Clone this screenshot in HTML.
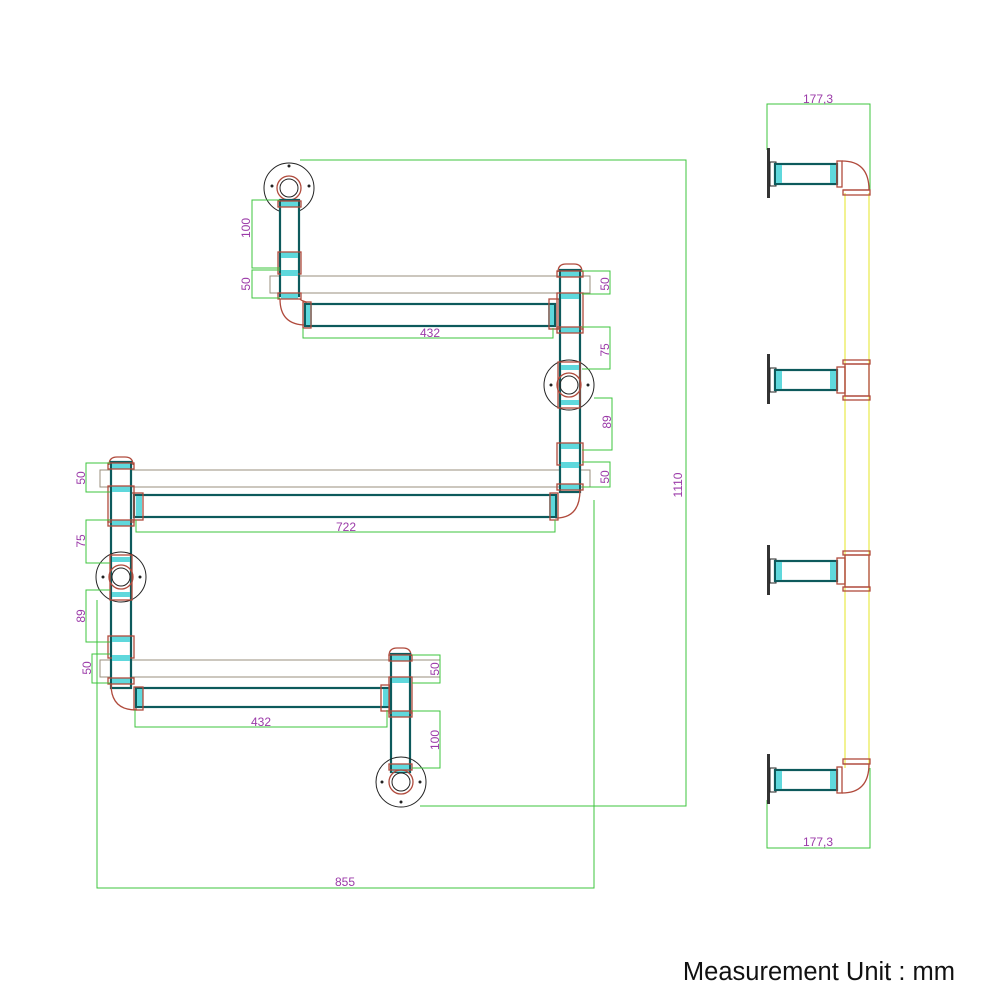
<!DOCTYPE html>
<html><head><meta charset="utf-8"><style>
html,body{margin:0;padding:0;background:#fff}
svg{display:block}
.p{fill:#fff;stroke:#0d5a5c;stroke-width:2.2}
.c{fill:#5fd8dc;stroke:none}
.r{fill:none;stroke:#b04a3c;stroke-width:1.3}
.g{fill:none;stroke:#3cc43c;stroke-width:1}
.s{fill:none;stroke:#9a8f7c;stroke-width:1}
.k{fill:none;stroke:#222;stroke-width:1}
.y{stroke:#e8e84a;stroke-width:1.2}
.t{font-family:"Liberation Sans",sans-serif;font-size:12px;fill:#9b3aa8}
</style></head><body>
<svg width="1000" height="1000" viewBox="0 0 1000 1000" xmlns="http://www.w3.org/2000/svg">
<polyline class="g" points="300,160 686,160 686,806 420,806"/>
<text class="t" transform="translate(682,485) rotate(-90)" text-anchor="middle">1110</text>
<polyline class="g" points="97,600 97,888 594,888 594,500"/>
<text class="t" x="345" y="886" text-anchor="middle">855</text>

<rect class="s" x="270" y="276" width="320" height="17"/>
<rect class="s" x="100" y="470" width="490" height="17"/>
<rect class="s" x="100" y="660" width="340" height="17"/>

<circle class="k" cx="289" cy="188" r="25"/>
<circle class="r" cx="289" cy="188" r="12"/><circle class="k" cx="289" cy="188" r="9"/>
<circle cx="289" cy="166" r="1.5" fill="#222"/><circle cx="272" cy="186" r="1.5" fill="#222"/><circle cx="309" cy="186" r="1.5" fill="#222"/>
<rect class="p" x="280" y="200" width="19" height="96"/>
<rect class="c" x="281" y="201" width="17" height="6"/><rect class="r" x="278" y="201" width="23" height="6"/>
<rect class="c" x="281" y="252" width="17" height="6"/><rect class="r" x="278" y="252" width="23" height="22"/>
<rect class="c" x="281" y="270" width="17" height="6"/>
<rect class="c" x="281" y="293" width="17" height="6"/><rect class="r" x="278" y="293" width="23" height="6"/>
<path class="r" d="M280,299 Q280,325 306,325 L306,302 Q300,300 300,299"/>
<rect class="p" x="305" y="304" width="250" height="22"/>
<rect class="c" x="306" y="305" width="6" height="20"/><rect class="r" x="303" y="302" width="8" height="26"/>
<rect class="c" x="548" y="305" width="6" height="20"/><rect class="r" x="549" y="299" width="10" height="30"/>
<polyline class="g" points="303,328 303,338 553,338 553,328"/>
<text class="t" x="430" y="337" text-anchor="middle">432</text>
<polyline class="g" points="280,200 252,200 252,268 280,268"/><text class="t" transform="translate(250,228) rotate(-90)" text-anchor="middle">100</text>
<polyline class="g" points="280,270 252,270 252,298 280,298"/><text class="t" transform="translate(250,284) rotate(-90)" text-anchor="middle">50</text>

<path class="r" d="M558,272 Q558,264 566,264 L574,264 Q582,264 582,272"/>
<rect class="p" x="560" y="270" width="20" height="222"/>
<rect class="c" x="561" y="271" width="18" height="6"/><rect class="r" x="557" y="271" width="26" height="6"/>
<rect class="c" x="561" y="293" width="18" height="6"/><rect class="r" x="557" y="293" width="26" height="36"/>
<rect class="c" x="561" y="327" width="18" height="6"/><rect class="r" x="557" y="327" width="26" height="6"/>
<circle class="k" cx="569" cy="385" r="25"/>
<rect class="r" x="558" y="362" width="22" height="46"/>
<circle class="r" cx="569" cy="385" r="12"/><circle class="k" cx="569" cy="385" r="9"/>
<circle cx="551" cy="385" r="1.5" fill="#222"/><circle cx="588" cy="385" r="1.5" fill="#222"/>
<rect class="c" x="561" y="365" width="18" height="5"/><rect class="c" x="561" y="400" width="18" height="5"/>
<rect class="c" x="561" y="443" width="18" height="6"/><rect class="r" x="557" y="443" width="26" height="22"/>
<rect class="c" x="561" y="462" width="18" height="6"/>
<rect class="c" x="561" y="484" width="18" height="6"/><rect class="r" x="557" y="484" width="26" height="6"/>
<path class="r" d="M580,490 Q580,518 556,518 L556,494"/>
<polyline class="g" points="582,271 610,271 610,294 582,294"/><text class="t" transform="translate(609,284) rotate(-90)" text-anchor="middle">50</text>
<polyline class="g" points="582,327 610,327 610,369 582,369"/><text class="t" transform="translate(609,350) rotate(-90)" text-anchor="middle">75</text>
<polyline class="g" points="594,398 612,398 612,450 582,450"/><text class="t" transform="translate(611,422) rotate(-90)" text-anchor="middle">89</text>
<polyline class="g" points="582,462 610,462 610,487 582,487"/><text class="t" transform="translate(609,477) rotate(-90)" text-anchor="middle">50</text>

<rect class="p" x="134" y="495" width="422" height="22"/>
<rect class="c" x="136" y="496" width="6" height="20"/><rect class="r" x="131" y="493" width="12" height="27"/>
<rect class="c" x="549" y="496" width="6" height="20"/><rect class="r" x="550" y="493" width="8" height="27"/>
<polyline class="g" points="136,520 136,532 555,532 555,520"/>
<text class="t" x="346" y="531" text-anchor="middle">722</text>

<path class="r" d="M109,465 Q109,457 117,457 L125,457 Q133,457 133,465"/>
<rect class="p" x="111" y="462" width="20" height="226"/>
<rect class="c" x="112" y="463" width="18" height="6"/><rect class="r" x="108" y="463" width="26" height="6"/>
<rect class="c" x="112" y="486" width="18" height="6"/><rect class="r" x="108" y="486" width="26" height="36"/>
<rect class="c" x="112" y="520" width="18" height="6"/><rect class="r" x="108" y="520" width="26" height="6"/>
<circle class="k" cx="121" cy="577" r="25"/>
<rect class="r" x="110" y="555" width="22" height="45"/>
<circle class="r" cx="121" cy="577" r="12"/><circle class="k" cx="121" cy="577" r="9"/>
<circle cx="103" cy="577" r="1.5" fill="#222"/><circle cx="140" cy="577" r="1.5" fill="#222"/>
<rect class="c" x="112" y="557" width="18" height="5"/><rect class="c" x="112" y="592" width="18" height="5"/>
<rect class="c" x="112" y="636" width="18" height="6"/><rect class="r" x="108" y="636" width="26" height="22"/>
<rect class="c" x="112" y="655" width="18" height="6"/>
<rect class="c" x="112" y="678" width="18" height="6"/><rect class="r" x="108" y="678" width="26" height="6"/>
<path class="r" d="M111,684 Q111,710 136,710 L136,688"/>
<polyline class="g" points="110,463 86,463 86,492 110,492"/><text class="t" transform="translate(85,478) rotate(-90)" text-anchor="middle">50</text>
<polyline class="g" points="110,520 86,520 86,563 110,563"/><text class="t" transform="translate(85,541) rotate(-90)" text-anchor="middle">75</text>
<polyline class="g" points="110,590 86,590 86,642 110,642"/><text class="t" transform="translate(85,616) rotate(-90)" text-anchor="middle">89</text>
<polyline class="g" points="110,654 92,654 92,683 110,683"/><text class="t" transform="translate(91,668) rotate(-90)" text-anchor="middle">50</text>

<rect class="p" x="136" y="688" width="254" height="19"/>
<rect class="c" x="137" y="689" width="6" height="17"/><rect class="r" x="134" y="687" width="9" height="23"/>
<rect class="c" x="383" y="689" width="6" height="17"/><rect class="r" x="381" y="685" width="9" height="26"/>
<polyline class="g" points="135,710 135,727 387,727 387,710"/>
<text class="t" x="261" y="726" text-anchor="middle">432</text>

<path class="r" d="M389,656 Q389,648 397,648 L403,648 Q411,648 411,656"/>
<rect class="p" x="391" y="654" width="19" height="118"/>
<rect class="c" x="392" y="655" width="17" height="6"/><rect class="r" x="389" y="655" width="23" height="6"/>
<rect class="c" x="392" y="677" width="17" height="6"/><rect class="r" x="389" y="677" width="23" height="36"/>
<rect class="c" x="392" y="711" width="17" height="6"/><rect class="r" x="389" y="711" width="23" height="6"/>
<rect class="c" x="392" y="764" width="17" height="8"/><rect class="r" x="389" y="764" width="23" height="6"/>
<circle class="k" cx="401" cy="782" r="25"/>
<circle class="r" cx="401" cy="782" r="12"/><circle class="k" cx="401" cy="782" r="9"/>
<circle cx="382" cy="782" r="1.5" fill="#222"/><circle cx="420" cy="782" r="1.5" fill="#222"/><circle cx="401" cy="802" r="1.5" fill="#222"/>
<polyline class="g" points="412,655 440,655 440,683 412,683"/><text class="t" transform="translate(439,669) rotate(-90)" text-anchor="middle">50</text>
<polyline class="g" points="412,711 440,711 440,768 412,768"/><text class="t" transform="translate(439,740) rotate(-90)" text-anchor="middle">100</text>

<line class="y" x1="845" y1="193" x2="845" y2="768"/>
<line class="y" x1="869" y1="193" x2="869" y2="768"/>
<polyline class="g" points="767,150 767,104 870,104 870,190"/><text class="t" x="818" y="103" text-anchor="middle">177,3</text>
<polyline class="g" points="767,800 767,848 870,848 870,768"/><text class="t" x="818" y="846" text-anchor="middle">177,3</text>
<g>
<rect x="767" y="148" width="3" height="50" fill="#333"/>
<rect class="k" x="770" y="162" width="6" height="24"/>
<rect class="p" x="775" y="164" width="62" height="20"/>
<rect class="c" x="776" y="165" width="6" height="18"/><rect class="c" x="830" y="165" width="6" height="18"/>
<rect class="r" x="837" y="161" width="5" height="26"/>
<path class="r" d="M842,161 Q869,161 869,190 L843,190"/>
<rect class="r" x="843" y="190" width="27" height="5"/>
</g>
<g>
<rect x="767" y="354" width="3" height="50" fill="#333"/>
<rect class="k" x="770" y="368" width="6" height="24"/>
<rect class="p" x="775" y="370" width="62" height="20"/>
<rect class="c" x="776" y="371" width="6" height="18"/><rect class="c" x="830" y="371" width="6" height="18"/>
<rect class="r" x="837" y="367" width="8" height="26"/>
<rect class="r" x="845" y="364" width="24" height="32"/>
<rect class="r" x="843" y="360" width="27" height="4"/><rect class="r" x="843" y="396" width="27" height="4"/>
</g>
<g>
<rect x="767" y="545" width="3" height="50" fill="#333"/>
<rect class="k" x="770" y="559" width="6" height="24"/>
<rect class="p" x="775" y="561" width="62" height="20"/>
<rect class="c" x="776" y="562" width="6" height="18"/><rect class="c" x="830" y="562" width="6" height="18"/>
<rect class="r" x="837" y="558" width="8" height="26"/>
<rect class="r" x="845" y="555" width="24" height="32"/>
<rect class="r" x="843" y="551" width="27" height="4"/><rect class="r" x="843" y="587" width="27" height="4"/>
</g>
<g>
<rect x="767" y="754" width="3" height="50" fill="#333"/>
<rect class="k" x="770" y="768" width="6" height="24"/>
<rect class="p" x="775" y="770" width="62" height="20"/>
<rect class="c" x="776" y="771" width="6" height="18"/><rect class="c" x="830" y="771" width="6" height="18"/>
<rect class="r" x="837" y="767" width="5" height="26"/>
<path class="r" d="M842,793 Q869,793 869,764 L843,764"/>
<rect class="r" x="843" y="759" width="27" height="5"/>
</g>

<text x="955" y="980" text-anchor="end" style="font-family:'Liberation Sans',sans-serif;font-size:25.5px;fill:#111">Measurement Unit : mm</text>
</svg>
</body></html>
